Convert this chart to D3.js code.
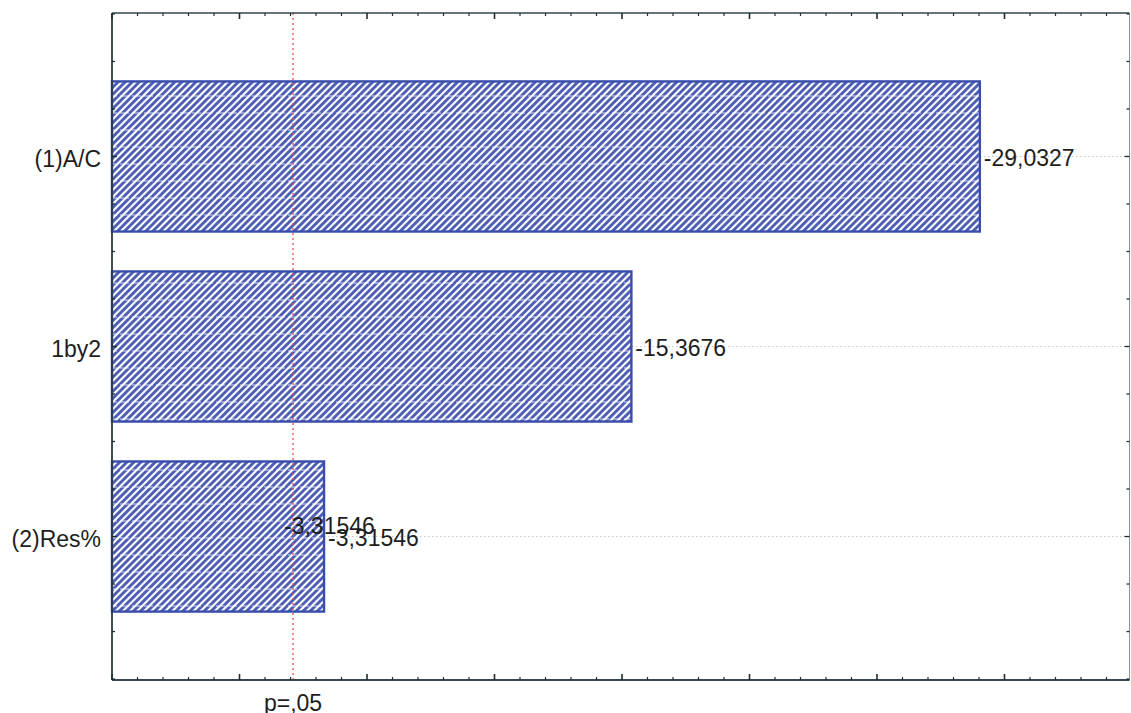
<!DOCTYPE html>
<html>
<head>
<meta charset="utf-8">
<script src="https://cdn.jsdelivr.net/npm/d3@7"></script>
<style>
  html, body { margin: 0; padding: 0; background: #fff; }
  svg { display: block; }
  text { font-family: "Liberation Sans", Arial, sans-serif; fill: #1e1e1e; }
</style>
</head>
<body>
<div id="chart"></div>
<script>
// Pareto chart of standardized effects
const categories = ["(1)A/C", "1by2", "(2)Res%"];
const effects = [-29.0327, -15.3676, -3.31546];
const valueLabels = ["-29,0327", "-15,3676", "-3,31546"];
// second copy of the Res% estimate, printed inside its bar
const extraLabels = [{ category: "(2)Res%", text: "-3,31546" }];
const criticalT = 2.10;
const criticalLabel = "p=,05";
const axisDomain = [-5, 35];

const W = 1131, H = 713;
const plot = { left: 112, top: 13, right: 1132, bottom: 680 };
const fontSize = "23px";

const svg = d3.select("#chart").append("svg")
  .attr("width", W).attr("height", H);

const x = d3.scaleLinear().domain(axisDomain).range([plot.left, plot.right]);
const y = d3.scaleBand().domain(categories)
  .range([plot.top, plot.bottom])
  .paddingInner(0.21).paddingOuter(0.36);

const frameRight = Math.min(x(axisDomain[1]), W - 1.5);

// hatch fill for bars
const defs = svg.append("defs");
const hatch = defs.append("pattern")
  .attr("id", "hatch").attr("patternUnits", "userSpaceOnUse")
  .attr("width", 5).attr("height", 5)
  .attr("patternTransform", "rotate(45)");
hatch.append("rect").attr("width", 5).attr("height", 5).attr("fill", "#fff");
hatch.append("line").attr("x1", 1.5).attr("y1", 0).attr("x2", 1.5).attr("y2", 5)
  .attr("stroke", "#4657b0").attr("stroke-width", 2.8);

const bands = defs.append("pattern")
  .attr("id", "bands").attr("patternUnits", "userSpaceOnUse")
  .attr("width", 12).attr("height", 17);
bands.append("line").attr("x1", 0).attr("x2", 9).attr("y1", 11).attr("y2", 11)
  .attr("stroke", "#fff").attr("stroke-width", 1.2).attr("stroke-opacity", 0.65);

// dotted guide lines through each category
svg.append("g").selectAll("line").data(categories).join("line")
  .attr("x1", plot.left).attr("x2", frameRight)
  .attr("y1", d => y(d) + y.bandwidth() / 2)
  .attr("y2", d => y(d) + y.bandwidth() / 2)
  .attr("stroke", "#c8c8c8").attr("stroke-width", 1)
  .attr("stroke-dasharray", "1.5,2.5");

// bars: absolute effect size, drawn from the axis start
const barData = categories.map((c, i) => ({ c, v: effects[i], label: valueLabels[i] }));
const barG = svg.append("g");
barG.selectAll("rect.bar").data(barData).join("rect")
  .attr("class", "bar")
  .attr("x", x(axisDomain[0]))
  .attr("y", d => y(d.c))
  .attr("width", d => x(Math.abs(d.v)) - x(axisDomain[0]))
  .attr("height", y.bandwidth())
  .attr("fill", "url(#hatch)")
  .attr("stroke", "#3a4dac").attr("stroke-width", 2.4);
barG.selectAll("rect.band").data(barData).join("rect")
  .attr("class", "band")
  .attr("x", x(axisDomain[0]) + 1)
  .attr("y", d => y(d.c) + 1)
  .attr("width", d => x(Math.abs(d.v)) - x(axisDomain[0]) - 2)
  .attr("height", y.bandwidth() - 2)
  .attr("fill", "url(#bands)");

// critical value line
svg.append("line")
  .attr("x1", x(criticalT)).attr("x2", x(criticalT))
  .attr("y1", plot.top).attr("y2", plot.bottom)
  .attr("stroke", "#e8504a").attr("stroke-width", 1.3)
  .attr("stroke-dasharray", "2,3");

// frame
const frame = svg.append("g");
frame.append("line").attr("x1", plot.left).attr("x2", plot.left)
  .attr("y1", plot.top).attr("y2", plot.bottom)
  .attr("stroke", "#2b3a40").attr("stroke-width", 1.8);
frame.append("line").attr("x1", plot.left).attr("x2", frameRight)
  .attr("y1", plot.bottom).attr("y2", plot.bottom)
  .attr("stroke", "#34474f").attr("stroke-width", 2);
frame.append("line").attr("x1", plot.left).attr("x2", frameRight)
  .attr("y1", plot.top).attr("y2", plot.top)
  .attr("stroke", "#34474f").attr("stroke-width", 1.6);
frame.append("line").attr("x1", frameRight).attr("x2", frameRight)
  .attr("y1", plot.top).attr("y2", plot.bottom)
  .attr("stroke", "#8a9296").attr("stroke-width", 1);

// inward ticks on bottom and top: minor every unit, major every five
const xTicks = d3.range(axisDomain[0], axisDomain[1] + 1, 1).filter(v => x(v) <= frameRight);
const tickCol = "#1f2d33";
svg.append("g").selectAll("line").data(xTicks).join("line")
  .attr("x1", d => x(d)).attr("x2", d => x(d))
  .attr("y1", plot.bottom)
  .attr("y2", d => plot.bottom - (d % 5 === 0 ? 6 : 3))
  .attr("stroke", tickCol).attr("stroke-width", d => d % 5 === 0 ? 1.6 : 1.2);
svg.append("g").selectAll("line").data(xTicks).join("line")
  .attr("x1", d => x(d)).attr("x2", d => x(d))
  .attr("y1", plot.top)
  .attr("y2", d => plot.top + (d % 5 === 0 ? 6 : 3))
  .attr("stroke", tickCol).attr("stroke-width", d => d % 5 === 0 ? 1.6 : 1.2);

// inward ticks on left and right: quarter steps, longer at category centres
const yStep = y.step();
const yTicks = [];
for (let t = y(categories[0]) + y.bandwidth() / 2; t >= plot.top - 0.5; t -= yStep / 4) yTicks.unshift(t);
for (let t = y(categories[0]) + y.bandwidth() / 2 + yStep / 4; t <= plot.bottom + 0.5; t += yStep / 4) yTicks.push(t);
const centres = categories.map(c => y(c) + y.bandwidth() / 2);
const isCentre = t => centres.some(c => Math.abs(c - t) < 0.5);
svg.append("g").selectAll("line").data(yTicks).join("line")
  .attr("x1", plot.left).attr("x2", t => plot.left + (isCentre(t) ? 5 : 3))
  .attr("y1", t => t).attr("y2", t => t)
  .attr("stroke", tickCol).attr("stroke-width", 1.3);
svg.append("g").selectAll("line").data(yTicks).join("line")
  .attr("x1", frameRight).attr("x2", t => frameRight - (isCentre(t) ? 5 : 3))
  .attr("y1", t => t).attr("y2", t => t)
  .attr("stroke", tickCol).attr("stroke-width", 1.3);

// category labels
svg.append("g").selectAll("text").data(categories).join("text")
  .attr("x", plot.left - 11)
  .attr("y", d => y(d) + y.bandwidth() / 2 + 2)
  .attr("dy", "0.35em")
  .attr("text-anchor", "end")
  .style("font-size", fontSize)
  .text(d => d);

// effect value labels
svg.append("g").selectAll("text").data(barData).join("text")
  .attr("x", d => x(Math.abs(d.v)) + 4)
  .attr("y", d => y(d.c) + y.bandwidth() / 2 + 1)
  .attr("dy", "0.35em")
  .style("font-size", fontSize)
  .text(d => d.label);

svg.append("g").selectAll("text").data(extraLabels).join("text")
  .attr("x", d => x(Math.abs(effects[categories.indexOf(d.category)])) - 40)
  .attr("y", d => y(d.category) + y.bandwidth() / 2 - 11)
  .attr("dy", "0.35em")
  .style("font-size", fontSize)
  .text(d => d.text);

// critical value label
svg.append("text")
  .attr("x", x(criticalT))
  .attr("y", 711)
  .attr("text-anchor", "middle")
  .style("font-size", fontSize)
  .text(criticalLabel);
</script>
</body>
</html>
